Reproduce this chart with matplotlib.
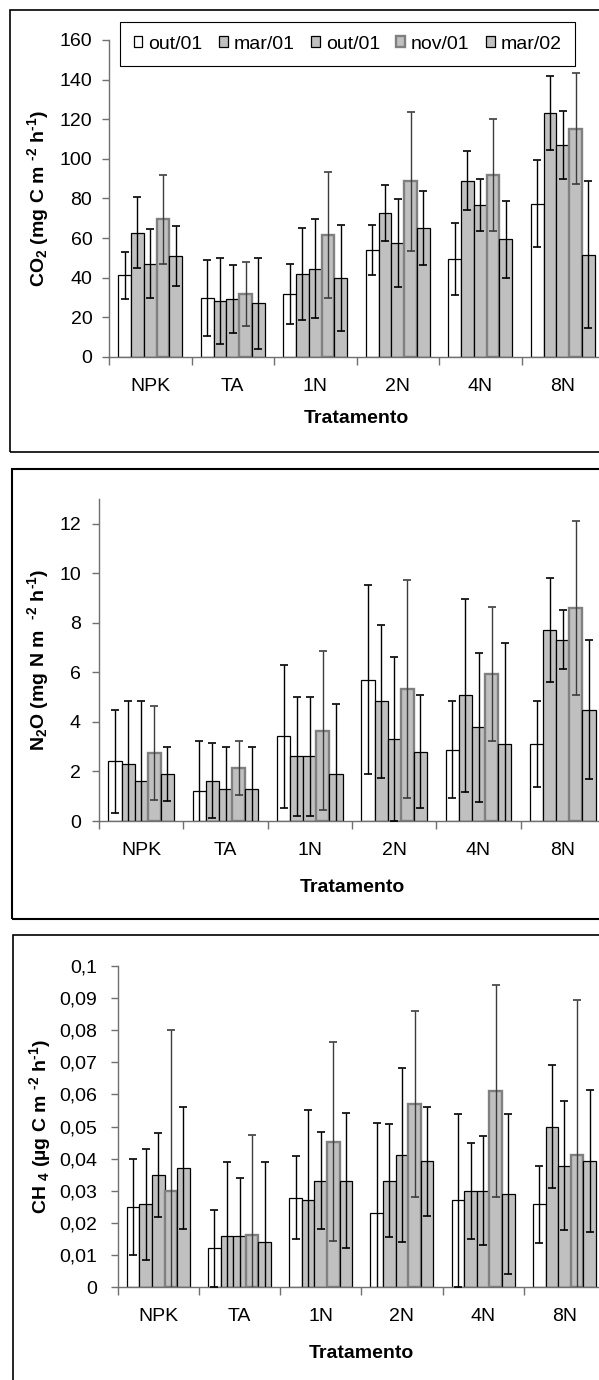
import numpy as np
import matplotlib
matplotlib.use('Agg')
import matplotlib.pyplot as plt
from matplotlib.patches import Rectangle, Patch

plt.rcParams['font.family'] = ['Liberation Sans', 'DejaVu Sans']
plt.rcParams['mathtext.fontset'] = 'custom'
plt.rcParams['mathtext.rm'] = 'Liberation Sans:bold'
plt.rcParams['mathtext.it'] = 'Liberation Sans:bold'
plt.rcParams['mathtext.bf'] = 'Liberation Sans:bold'
plt.rcParams['mathtext.default'] = 'rm'

#####################################################################
#################           DATA

tratamentos = ['NPK', 'TA', '1N', '2N', '4N', '8N']
datas = ['out/01', 'mar/01', 'out/01', 'nov/01', 'mar/02']

# CO2 (mg C m-2 h-1): one list per sampling date, mean and error
co2_out01a = [41.2, 29.8, 31.6, 54.2, 49.6, 77.4]
co2_mar01 = [62.8, 28.4, 41.9, 72.8, 89.0, 123.3]
co2_out01b = [47.1, 29.1, 44.6, 57.4, 76.7, 107.0]
co2_nov01 = [69.5, 31.8, 61.6, 88.7, 91.9, 115.1]
co2_mar02 = [51.0, 27.1, 40.0, 65.3, 59.4, 51.6]
co2_err_out01a = [11.8, 19.1, 15.1, 12.6, 18.2, 21.9]
co2_err_mar01 = [18.0, 21.6, 23.3, 14.2, 14.9, 18.6]
co2_err_out01b = [17.3, 17.2, 24.9, 22.2, 13.1, 17.4]
co2_err_nov01 = [22.5, 16.2, 31.6, 35.2, 28.2, 28.0]
co2_err_mar02 = [15.2, 23.1, 26.7, 18.7, 19.3, 37.0]

# N2O (mg N m-2 h-1)
n2o_out01a = [2.41, 1.21, 3.42, 5.71, 2.88, 3.11]
n2o_mar01 = [2.31, 1.63, 2.61, 4.83, 5.07, 7.71]
n2o_out01b = [1.63, 1.31, 2.61, 3.31, 3.78, 7.31]
n2o_nov01 = [2.76, 2.13, 3.65, 5.32, 5.94, 8.60]
n2o_mar02 = [1.90, 1.31, 1.90, 2.79, 3.11, 4.50]
n2o_err_out01a = [2.09, 2.0, 2.88, 3.8, 1.95, 1.72]
n2o_err_mar01 = [2.52, 1.5, 2.39, 3.1, 3.9, 2.1]
n2o_err_out01b = [3.2, 1.66, 2.39, 3.3, 3.02, 1.19]
n2o_err_nov01 = [1.9, 1.1, 3.2, 4.4, 2.7, 3.53]
n2o_err_mar02 = [1.08, 1.66, 2.81, 2.28, 4.06, 2.8]

# CH4 (ug C m-2 h-1)
ch4_out01a = [0.025, 0.0121, 0.0279, 0.023, 0.027, 0.0258]
ch4_mar01 = [0.0258, 0.016, 0.027, 0.0332, 0.030, 0.050]
ch4_out01b = [0.035, 0.016, 0.0332, 0.0411, 0.030, 0.0378]
ch4_nov01 = [0.030, 0.0163, 0.0453, 0.057, 0.061, 0.0412]
ch4_mar02 = [0.0371, 0.0141, 0.0332, 0.0392, 0.029, 0.0392]
ch4_err_out01a = [0.015, 0.012, 0.013, 0.028, 0.027, 0.012]
ch4_err_mar01 = [0.0172, 0.023, 0.028, 0.0176, 0.015, 0.019]
ch4_err_out01b = [0.013, 0.018, 0.015, 0.027, 0.017, 0.020]
ch4_err_nov01 = [0.050, 0.031, 0.031, 0.029, 0.033, 0.048]
ch4_err_mar02 = [0.019, 0.025, 0.021, 0.017, 0.025, 0.022]

co2_ticks = [0, 20, 40, 60, 80, 100, 120, 140, 160]
n2o_ticks = [0, 2, 4, 6, 8, 10, 12]
ch4_ticks = [0, 0.01, 0.02, 0.03, 0.04, 0.05, 0.06, 0.07, 0.08, 0.09, 0.1]

#####################################################################
#################           STYLE

W, H = 599, 1380
faces = ['white', '#c0c0c0', '#c0c0c0', '#c0c0c0', '#c0c0c0']
edges = ['black', 'black', 'black', '#808080', 'black']
edge_lw = [0.9, 0.9, 0.9, 1.7, 0.9]
err_col = ['black', 'black', 'black', '#3c3c3c', 'black']
axis_col = '#707070'
fs = 14
bar_w = 0.155

fig = plt.figure(figsize=(W / 100, H / 100), dpi=100)


def px_rect(left, top, right, bottom):
    # pixel box (from top-left) -> figure fraction [l, b, w, h]
    return [left / W, 1 - bottom / H, (right - left) / W, (bottom - top) / H]


def draw_panel(rect, means, errs, ticks, ylabel, ylab_x, ypad, fmt=None):
    ax = fig.add_axes(rect)
    x = np.arange(len(tratamentos))
    for j in range(5):
        off = (j - 2) * bar_w
        ax.bar(x + off, means[j], bar_w, color=faces[j], edgecolor=edges[j],
               linewidth=edge_lw[j], zorder=2)
        ax.errorbar(x + off, means[j], yerr=errs[j], fmt='none', ecolor=err_col[j],
                    elinewidth=1.0, capsize=3, capthick=1.2, zorder=3)
    ax.set_xlim(-0.5, len(tratamentos) - 0.5)
    ax.set_xticks(np.arange(-0.5, len(tratamentos) + 0.5, 1))
    ax.set_xticklabels([])
    ax.set_xticks(x, minor=True)
    ax.set_xticklabels(tratamentos, minor=True)
    ax.tick_params(axis='x', which='major', direction='out', length=6, width=1, color=axis_col)
    ax.tick_params(axis='x', which='minor', length=0, pad=15, labelsize=fs)
    ax.set_yticks(ticks)
    if fmt is not None:
        ax.set_yticklabels([fmt(t) for t in ticks])
    ax.tick_params(axis='y', direction='out', length=5, width=1, color=axis_col,
                   labelsize=fs, pad=ypad)
    for s in ['top', 'right']:
        ax.spines[s].set_visible(False)
    for s in ['left', 'bottom']:
        ax.spines[s].set_color(axis_col)
        ax.spines[s].set_linewidth(1.0)
    ax.set_ylabel(ylabel, fontsize=fs, fontweight='bold', va='center')
    ax.yaxis.set_label_coords(ylab_x, 0.5)
    ax.set_xlabel('Tratamento', fontsize=fs, fontweight='bold', va='center')
    return ax


# panel boxes
for (l, t, r, b, lw) in [(10, 10, 640, 452, 1.2), (11.5, 469, 640, 919, 1.5),
                         (13.4, 935, 640, 1400, 1.2)]:
    fig.add_artist(Rectangle((l / W, 1 - b / H), (r - l) / W, (b - t) / H,
                             transform=fig.transFigure, fill=False,
                             edgecolor='black', linewidth=lw, clip_on=False))

# CO2
ax1 = draw_panel(px_rect(109, 40, 604, 357),
                 [co2_out01a, co2_mar01, co2_out01b, co2_nov01, co2_mar02],
                 [co2_err_out01a, co2_err_mar01, co2_err_out01b, co2_err_nov01, co2_err_mar02],
                 co2_ticks, r'CO$_2$ (mg C m $^{\text{-2}}$ h$^{\text{-1}}$)', (38 - 109) / 495, 7)
ax1.set_ylim(0, 160)
ax1.xaxis.set_label_coords(0.5, (357 - 419) / 317)

handles = [Patch(facecolor=faces[j], edgecolor=edges[j], linewidth=edge_lw[j]) for j in range(5)]
leg = ax1.legend(handles, datas, ncol=5, loc='upper left',
                 bbox_to_anchor=(120 / W, 1 - 22 / H), bbox_transform=fig.transFigure,
                 fancybox=False, edgecolor='black', framealpha=1, fontsize=fs,
                 handlelength=0.45, handleheight=0.45, handletextpad=0.3,
                 columnspacing=0.85, borderpad=0.7, borderaxespad=0)
leg.get_frame().set_linewidth(0.8)

# N2O
ax2 = draw_panel(px_rect(99, 499, 605, 821),
                 [n2o_out01a, n2o_mar01, n2o_out01b, n2o_nov01, n2o_mar02],
                 [n2o_err_out01a, n2o_err_mar01, n2o_err_out01b, n2o_err_nov01, n2o_err_mar02],
                 n2o_ticks, r'N$_2$O (mg N m  $^{\text{-2}}$ h$^{\text{-1}}$)', (38 - 99) / 506, 8)
ax2.set_ylim(0, 13)
ax2.xaxis.set_label_coords(0.5, (821 - 887) / 322)

# CH4
ax3 = draw_panel(px_rect(117.7, 965.7, 605, 1287.3),
                 [ch4_out01a, ch4_mar01, ch4_out01b, ch4_nov01, ch4_mar02],
                 [ch4_err_out01a, ch4_err_mar01, ch4_err_out01b, ch4_err_nov01, ch4_err_mar02],
                 ch4_ticks, r'CH $_{4}$ (µg C m $^{\text{-2}}$ h$^{\text{-1}}$)', (40 - 117.7) / 487.3, 10,
                 fmt=lambda v: ('%g' % v).replace('.', ','))
ax3.set_ylim(0, 0.1)
ax3.xaxis.set_label_coords(0.5, (1287.3 - 1353) / 321.6)

fig.savefig('out.png', dpi=100)
